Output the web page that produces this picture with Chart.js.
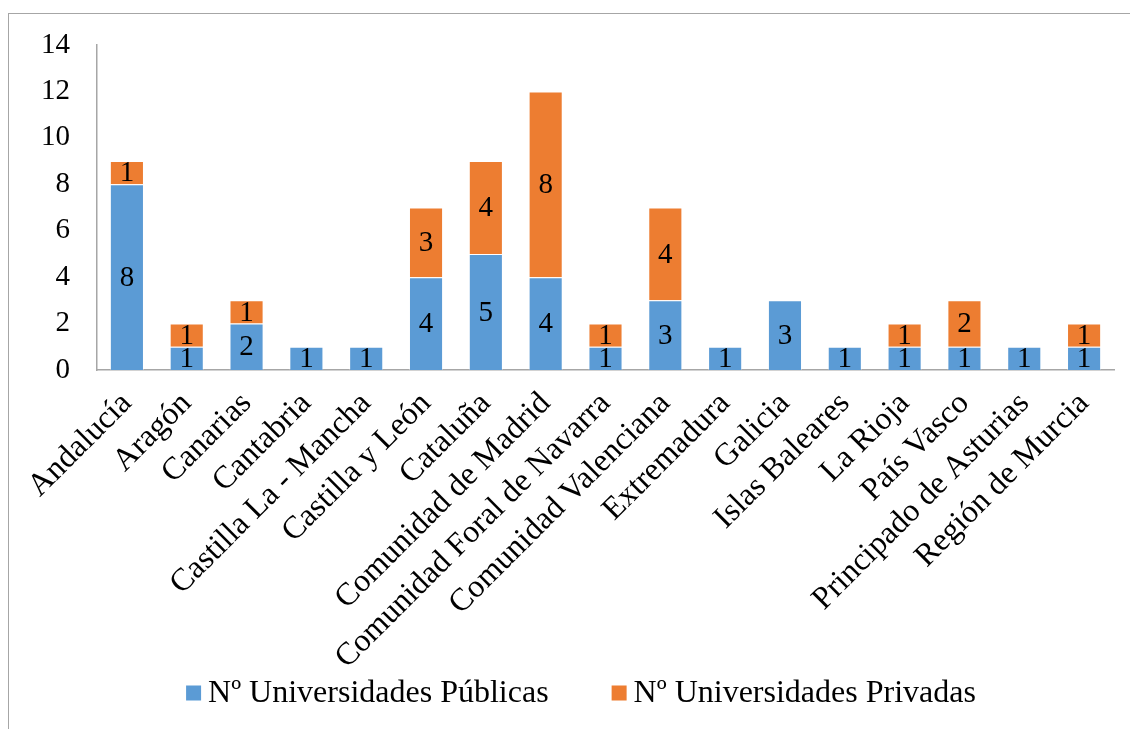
<!DOCTYPE html>
<html>
<head>
<meta charset="utf-8">
<script src="https://cdn.jsdelivr.net/npm/chart.js@4/dist/chart.umd.min.js"></script>
<style>
  html, body { margin: 0; padding: 0; background: #fff; overflow: hidden; }
  #frame {
    position: absolute; left: 8px; top: 13px;
    width: 1150px; height: 760px;
    border: 1px solid #a6a6a6;
  }
  #uniChart { display: block; }
</style>
</head>
<body>
<div id="frame">
  <canvas id="uniChart" width="1150" height="715"></canvas>
</div>
<script>
const regiones = [
  "Andalucía", "Aragón", "Canarias", "Cantabria", "Castilla La - Mancha",
  "Castilla y León", "Cataluña", "Comunidad de Madrid", "Comunidad Foral de Navarra",
  "Comunidad Valenciana", "Extremadura", "Galicia", "Islas Baleares", "La Rioja",
  "País Vasco", "Principado de Asturias", "Región de Murcia"
];
const publicas = [8, 1, 2, 1, 1, 4, 5, 4, 1, 3, 1, 3, 1, 1, 1, 1, 1];
const privadas = [1, 1, 1, 0, 0, 3, 4, 8, 1, 4, 0, 0, 0, 1, 2, 0, 1];
const yTicks = [0, 2, 4, 6, 8, 10, 12, 14];

const SERIF = '"Liberation Serif", "Times New Roman", serif';

// numbers written in the middle of each stacked segment
const segmentLabels = {
  id: 'segmentLabels',
  afterDatasetsDraw(chart) {
    const ctx = chart.ctx;
    ctx.save();
    ctx.font = '29px ' + SERIF;
    ctx.fillStyle = '#000';
    ctx.textAlign = 'center';
    ctx.textBaseline = 'middle';
    chart.data.datasets.forEach((ds, i) => {
      const meta = chart.getDatasetMeta(i);
      meta.data.forEach((bar, j) => {
        const v = ds.data[j];
        if (!v) return;
        ctx.fillText(String(v), bar.x, (bar.y + bar.base) / 2 + 1);
      });
    });
    ctx.restore();
  }
};

// legend row under the category labels
const bottomLegend = {
  id: 'bottomLegend',
  afterDraw(chart) {
    const ctx = chart.ctx;
    const y = 679, box = 15, gap = 7, between = 63;
    ctx.save();
    ctx.font = '32px ' + SERIF;
    ctx.textBaseline = 'middle';
    const items = chart.data.datasets.map(ds => ({
      text: ds.label, color: ds.backgroundColor, w: ctx.measureText(ds.label).width
    }));
    let total = 0;
    items.forEach((it, i) => { total += box + gap + it.w + (i ? between : 0); });
    let x = chart.width / 2 - total / 2 - 3;
    items.forEach(it => {
      ctx.fillStyle = it.color;
      ctx.fillRect(x, y - box / 2, box, box);
      ctx.fillStyle = '#000';
      ctx.fillText(it.text, x + box + gap, y + 1);
      x += box + gap + it.w + between;
    });
    ctx.restore();
  }
};

const chartData = {
  labels: regiones,
  datasets: [
    {
      label: "Nº Universidades Públicas",
      data: publicas,
      backgroundColor: "#5b9bd5",
      borderColor: "rgba(255,255,255,0.35)",
      borderWidth: 1
    },
    {
      label: "Nº Universidades Privadas",
      data: privadas,
      backgroundColor: "#ed7d31",
      borderColor: "rgba(255,255,255,0.35)",
      borderWidth: 1
    }
  ]
};

const config = {
  type: 'bar',
  data: chartData,
  options: {
    responsive: false,
    animation: false,
    categoryPercentage: 1.0,
    barPercentage: 0.57,
    layout: { padding: { top: 31, left: 0, right: 45, bottom: 59 } },
    plugins: {
      legend: { display: false },
      tooltip: { enabled: false }
    },
    scales: {
      x: {
        stacked: true,
        grid: { display: false, drawTicks: false },
        border: { color: '#a6a6a6', width: 1.5 },
        ticks: {
          color: '#000',
          font: { family: SERIF, size: 32 },
          minRotation: 45,
          maxRotation: 45,
          autoSkip: false,
          padding: 15
        },
        afterFit(scale) {
          scale.height = 300;
          scale.paddingLeft = 0;
          scale.paddingRight = 0;
        }
      },
      y: {
        stacked: true,
        min: 0,
        max: 14,
        grid: { display: false, drawTicks: false },
        border: { color: '#a6a6a6', width: 1.5 },
        afterBuildTicks(scale) { scale.ticks = yTicks.map(v => ({ value: v })); },
        ticks: {
          color: '#000',
          font: { family: SERIF, size: 29 },
          padding: 27
        },
        afterFit(scale) {
          scale.width = 88;
          scale.paddingTop = 0;
          scale.paddingBottom = 0;
        }
      }
    }
  },
  plugins: [segmentLabels, bottomLegend]
};

new Chart(document.getElementById('uniChart').getContext('2d'), config);
</script>
</body>
</html>
